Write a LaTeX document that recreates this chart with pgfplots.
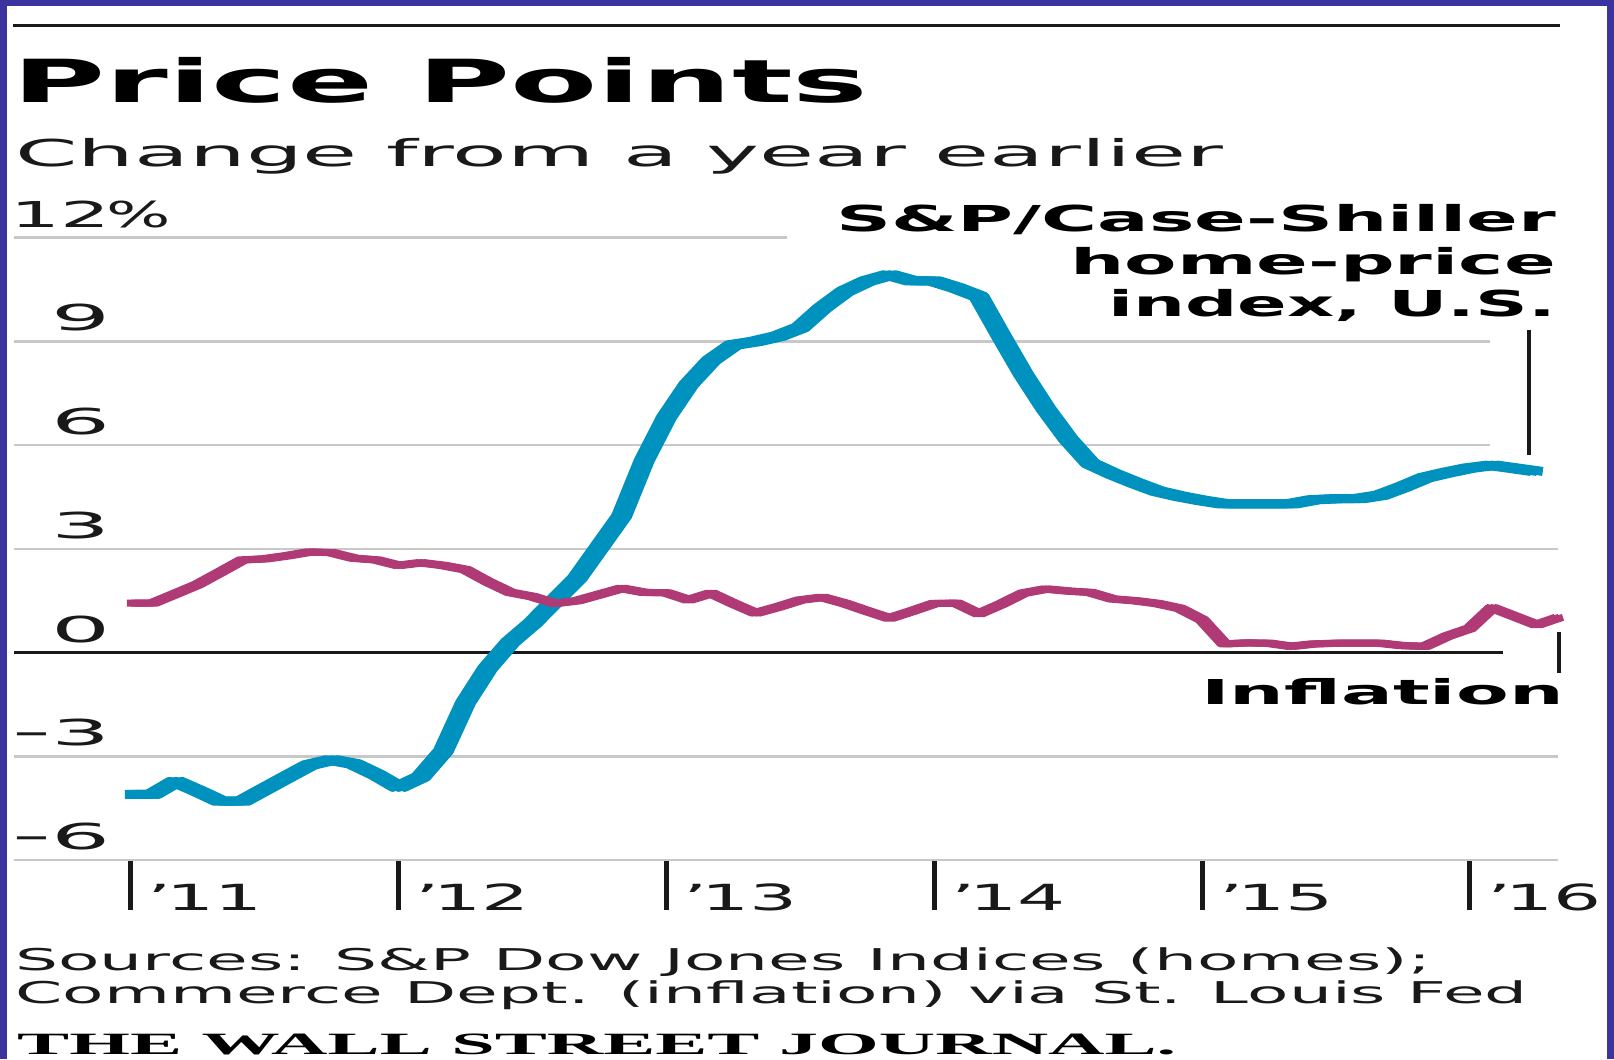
\documentclass[border=0pt]{standalone}
\usepackage{pgfplots}
\pgfplotsset{compat=1.18}
\usepackage{pgfplotstable}
\usepackage{fontspec}
\setmainfont{DejaVu Sans}
% the original is stretched about 2x sideways, so every text is stretched too
\newfontfamily\titlef[FakeStretch=2.14]{DejaVu Sans Bold}
\newfontfamily\subf[FakeStretch=2.42]{DejaVu Sans}
\newfontfamily\ytickf[FakeStretch=2.6]{DejaVu Sans}
\newfontfamily\twelvef[FakeStretch=2.2]{DejaVu Sans}
\newfontfamily\minusf[FakeStretch=1.3]{DejaVu Sans}
\newfontfamily\pctf[FakeStretch=1.9]{DejaVu Sans}
\newfontfamily\xtickf[FakeStretch=2.1]{DejaVu Sans}
\newfontfamily\labf[FakeStretch=2.14]{DejaVu Sans Bold}
\newfontfamily\labnf[FakeStretch=2.05]{DejaVu Sans Bold}
\newfontfamily\inff[FakeStretch=2.24]{DejaVu Sans Bold}
\newfontfamily\srcf[FakeStretch=2.26]{DejaVu Sans}
\newfontfamily\wsjf[FakeStretch=2.52]{Liberation Serif Bold}

\definecolor{frame}{RGB}{58,51,160}
\definecolor{hpi}{RGB}{0,146,190}
\definecolor{cpi}{RGB}{176,58,118}
\definecolor{gridc}{RGB}{200,200,200}
\definecolor{ink}{RGB}{25,25,25}

% S&P/Case-Shiller U.S. home-price index, % change from a year earlier
\pgfplotstableread{
t v
2011.000 -4.10
2011.083 -4.10
2011.167 -3.72
2011.250 -4.00
2011.333 -4.30
2011.417 -4.30
2011.500 -3.95
2011.583 -3.60
2011.667 -3.25
2011.750 -3.10
2011.833 -3.22
2011.917 -3.53
2012.000 -3.90
2012.083 -3.60
2012.167 -2.85
2012.250 -1.45
2012.333 -0.45
2012.417 0.30
2012.500 0.85
2012.583 1.50
2012.667 2.15
2012.750 3.05
2012.833 3.95
2012.917 5.55
2013.000 6.80
2013.083 7.75
2013.167 8.45
2013.250 8.90
2013.333 9.00
2013.417 9.15
2013.500 9.40
2013.583 9.97
2013.667 10.45
2013.750 10.75
2013.833 10.93
2013.917 10.75
2014.000 10.75
2014.083 10.55
2014.167 10.30
2014.250 9.16
2014.333 8.05
2014.417 7.05
2014.500 6.18
2014.583 5.47
2014.667 5.17
2014.750 4.91
2014.833 4.67
2014.917 4.52
2015.000 4.40
2015.083 4.30
2015.167 4.30
2015.250 4.30
2015.333 4.30
2015.417 4.42
2015.500 4.45
2015.583 4.45
2015.667 4.55
2015.750 4.79
2015.833 5.06
2015.917 5.21
2016.000 5.34
2016.083 5.42
2016.167 5.33
2016.250 5.24
}\hpidata

% inflation, % change from a year earlier
\pgfplotstableread{
t v
2011.000 1.43
2011.083 1.43
2011.167 1.70
2011.250 1.97
2011.333 2.32
2011.417 2.68
2011.500 2.71
2011.583 2.80
2011.667 2.91
2011.750 2.89
2011.833 2.73
2011.917 2.68
2012.000 2.52
2012.083 2.60
2012.167 2.52
2012.250 2.40
2012.333 2.05
2012.417 1.74
2012.500 1.62
2012.583 1.42
2012.667 1.50
2012.750 1.68
2012.833 1.86
2012.917 1.74
2013.000 1.73
2013.083 1.52
2013.167 1.72
2013.250 1.42
2013.333 1.14
2013.417 1.32
2013.500 1.52
2013.583 1.60
2013.667 1.42
2013.750 1.20
2013.833 0.99
2013.917 1.20
2014.000 1.42
2014.083 1.43
2014.167 1.12
2014.250 1.40
2014.333 1.72
2014.417 1.84
2014.500 1.78
2014.583 1.74
2014.667 1.55
2014.750 1.50
2014.833 1.42
2014.917 1.28
2015.000 0.95
2015.083 0.25
2015.167 0.28
2015.250 0.27
2015.333 0.18
2015.417 0.25
2015.500 0.27
2015.583 0.27
2015.667 0.27
2015.750 0.20
2015.833 0.18
2015.917 0.48
2016.000 0.70
2016.083 1.30
2016.167 1.05
2016.250 0.80
2016.333 1.02
}\cpidata

\tikzset{
  ylab/.style={anchor=base east, inner sep=0pt, xshift=100.7bp, yshift=10.5bp,
    font={\ytickf\fontsize{35.7bp}{36bp}\selectfont}, text=ink},
  xlab/.style={anchor=base west, inner sep=0pt, xshift=17bp, yshift=-50bp,
    font={\xtickf\fontsize{36bp}{36bp}\selectfont}, text=ink},
  lab/.style={anchor=base east, inner sep=0pt,
    font={\labf\fontsize{35.7bp}{36bp}\selectfont}, text=black},
  % a wide, flat pen: the stroke is repeated a little to each side
  widepen/.style 2 args={line width=#1, line join=round,
    preaction={draw, line width=#1, line join=round, transform canvas={xshift=-#2}},
    postaction={draw, line width=#1, line join=round, transform canvas={xshift=#2}}},
}

\begin{document}
\begin{tikzpicture}[x=1bp,y=1bp]
\fill[frame] (0,0) rectangle (1614,1059);
\fill[white] (7,0) rectangle (1607,1053);

\draw[ink, line width=3bp] (13,1033) -- (1560,1033);
\node[anchor=base west, inner sep=0pt] at (12,956)
  {\titlef\fontsize{59.4bp}{60bp}\selectfont Price Points};
\node[anchor=base west, inner sep=0pt, text=ink] at (15,892)
  {\subf\fontsize{37bp}{38bp}\selectfont Change from a year earlier};

\begin{axis}[
  at={(10.29bp,199bp)}, anchor=south west,
  scale only axis, width=1553.24bp, height=622.26bp,
  xmin=2010.55, xmax=2016.35, ymin=-6, ymax=12,
  axis line style={draw=none},
  xtick={2011,2012,2013,2014,2015,2016}, xticklabels={},
  ytick=\empty,
  xtick pos=bottom, tick align=outside,
  major tick length=50bp,
  tick style={line width=5bp, color=ink},
  clip=false,
]
% grid lines of uneven length, as in the original
\draw[gridc, line width=2.5bp] (axis cs:2010.565,12) -- (axis cs:2013.45,12);
\draw[gridc, line width=2.5bp] (axis cs:2010.565,9) -- (axis cs:2016.075,9);
\draw[gridc, line width=2.5bp] (axis cs:2010.565,6) -- (axis cs:2016.075,6);
\draw[gridc, line width=2.5bp] (axis cs:2010.565,3) -- (axis cs:2016.329,3);
\draw[gridc, line width=2.5bp] (axis cs:2010.565,-3) -- (axis cs:2016.329,-3);
\draw[gridc, line width=2.5bp] (axis cs:2010.565,-6) -- (axis cs:2016.329,-6);
\draw[ink, line width=3bp] (axis cs:2010.565,0) -- (axis cs:2016.124,0);

\addplot[hpi, no marks, widepen={9bp}{6bp}] table[x=t, y=v] {\hpidata};
\addplot[cpi, no marks, widepen={7bp}{4bp}] table[x=t, y=v] {\cpidata};

% leader lines to the labels
\draw[ink, line width=4bp] (axis cs:2016.221,9.33) -- (axis cs:2016.221,5.72);
\draw[ink, line width=4bp] (axis cs:2016.333,0.6) -- (axis cs:2016.333,-0.59);

\node[ylab] at (axis cs:2010.55,12) {{\twelvef 12}\rlap{\kern-4bp\pctf\%}};
\node[ylab] at (axis cs:2010.55,9) {9};
\node[ylab] at (axis cs:2010.55,6) {6};
\node[ylab] at (axis cs:2010.55,3) {3};
\node[ylab] at (axis cs:2010.55,0) {0};
\node[ylab] at (axis cs:2010.55,-3) {{\minusf −}3};
\node[ylab] at (axis cs:2010.55,-6) {{\minusf −}6};

\node[xlab] at (axis cs:2011,-6) {’\kern-6bp 11};
\node[xlab] at (axis cs:2012,-6) {’\kern-6bp 12};
\node[xlab] at (axis cs:2013,-6) {’\kern-6bp 13};
\node[xlab] at (axis cs:2014,-6) {’\kern-6bp 14};
\node[xlab] at (axis cs:2015,-6) {’\kern-6bp 15};
\node[xlab] at (axis cs:2016,-6) {’\kern-6bp 16};
\end{axis}

\node[lab] at (1556,827) {S\&P/Case-Shiller};
\node[lab] at (1556,784.5) {home-price};
\node[lab, font={\labnf\fontsize{35.7bp}{36bp}\selectfont}] at (1556,742) {index, U.S.};
\node[lab, font={\inff\fontsize{34.3bp}{35bp}\selectfont}] at (1564,354) {Inflation};

\node[anchor=base west, inner sep=0pt, text=ink] at (15,89)
  {\srcf\fontsize{30bp}{31bp}\selectfont Sources: S\&P Dow Jones Indices (homes);};
\node[anchor=base west, inner sep=0pt, text=ink] at (15,55.5)
  {\srcf\fontsize{30bp}{31bp}\selectfont Commerce Dept. (inflation) via St. Louis Fed};
\node[anchor=base west, inner sep=0pt, text=black] at (17,5)
  {\wsjf\fontsize{31bp}{32bp}\selectfont THE WALL STREET JOURNAL.};
\end{tikzpicture}
\end{document}
